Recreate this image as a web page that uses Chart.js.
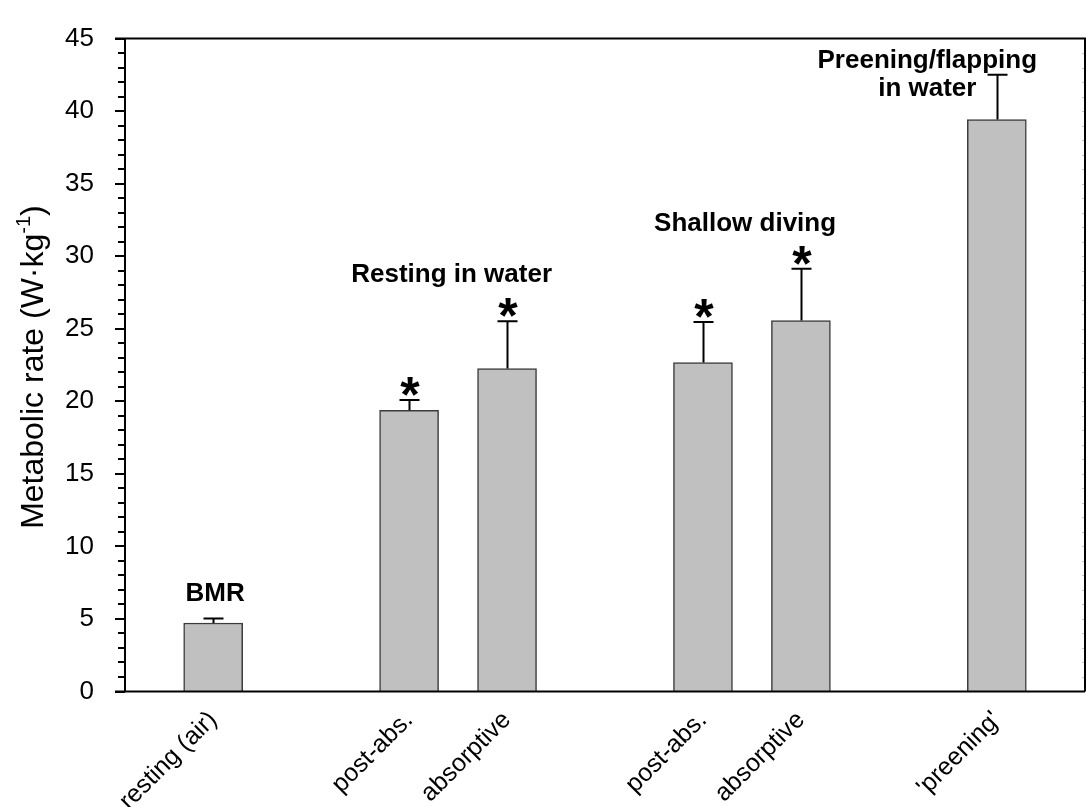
<!DOCTYPE html>
<html>
<head>
<meta charset="utf-8">
<script src="https://cdn.jsdelivr.net/npm/chart.js@4.4.1/dist/chart.umd.min.js"></script>
<style>
  html, body { margin: 0; padding: 0; background: #ffffff; }
  #wrap { width: 1086px; height: 807px; }
</style>
</head>
<body>
<div id="wrap"><canvas id="chart" width="1086" height="807"></canvas></div>
<script>
// Metabolic rate by activity (mean + upper SE)
const categories = ["resting (air)", "post-abs.", "absorptive", "post-abs.", "absorptive", "'preening'"];
const positions = [1, 3, 4, 6, 7, 9];
const meanRates = [4.72, 19.38, 22.26, 22.67, 25.57, 39.42];
const errorUpper = [0.32, 0.71, 3.26, 2.79, 3.57, 3.09];
const significant = [false, true, true, true, true, false];
const yTickValues = [0, 5, 10, 15, 20, 25, 30, 35, 40, 45];

// Group headings, anchored in axis units (x position, y baseline)
const groupHeadings = [
  { lines: ["BMR"], x: 1.02, y: 6.25 },
  { lines: ["Resting in water"], x: 3.434, y: 28.25 },
  { lines: ["Shallow diving"], x: 6.43, y: 31.72 },
  { lines: ["Preening/flapping", "in water"], x: 8.29, y: 43.0 }
];

const FONT = "'Liberation Sans', Arial, Helvetica, sans-serif";

const barData = positions.map((p, i) => ({ x: p, y: meanRates[i] }));

// Frame, axis ticks, error bars, asterisks, headings and y title
const decorations = {
  id: 'decorations',
  afterDatasetsDraw(chart) {
    const { ctx, chartArea: a, scales: { x, y } } = chart;
    ctx.save();

    // error bars
    ctx.strokeStyle = '#000';
    ctx.lineWidth = 2;
    positions.forEach((p, i) => {
      const px = Math.round(x.getPixelForValue(p)) + 0.5;
      const y0 = y.getPixelForValue(meanRates[i]);
      const y1 = y.getPixelForValue(meanRates[i] + errorUpper[i]);
      ctx.beginPath();
      ctx.moveTo(px, y0);
      ctx.lineTo(px, y1);
      ctx.moveTo(px - 10, y1);
      ctx.lineTo(px + 10, y1);
      ctx.stroke();
      if (significant[i]) {
        ctx.font = 'bold 50px ' + FONT;
        ctx.fillStyle = '#000';
        ctx.textAlign = 'center';
        ctx.textBaseline = 'alphabetic';
        const m = ctx.measureText('*');
        const bottom = y1 - 4;
        ctx.fillText('*', px + 0.5, bottom - m.actualBoundingBoxDescent);
      }
    });

    // frame
    ctx.lineWidth = 2;
    ctx.strokeStyle = '#000';
    ctx.beginPath();
    ctx.moveTo(a.left - 10, a.top);
    ctx.lineTo(a.right, a.top);
    ctx.lineTo(a.right, a.bottom);
    ctx.moveTo(a.left - 10, a.bottom);
    ctx.lineTo(a.right, a.bottom);
    ctx.moveTo(a.left, a.top - 1);
    ctx.lineTo(a.left, a.bottom + 1);
    ctx.stroke();

    // left ticks: major every 5, minor every 1
    for (let v = 0; v <= 45; v += 1) {
      const py = Math.round(y.getPixelForValue(v));
      const len = v % 5 === 0 ? 10 : 7;
      ctx.beginPath();
      ctx.moveTo(a.left - len, py);
      ctx.lineTo(a.left, py);
      ctx.stroke();
    }
    // faint inner ticks on right frame
    ctx.strokeStyle = '#c8c8c8';
    ctx.lineWidth = 1;
    for (let v = 1; v < 45; v += 1) {
      const py = Math.round(y.getPixelForValue(v)) + 0.5;
      ctx.beginPath();
      ctx.moveTo(a.right - 3, py);
      ctx.lineTo(a.right - 1, py);
      ctx.stroke();
    }

    // group headings
    ctx.fillStyle = '#000';
    ctx.font = 'bold 26px ' + FONT;
    ctx.textAlign = 'center';
    ctx.textBaseline = 'alphabetic';
    groupHeadings.forEach(h => {
      const hx = x.getPixelForValue(h.x);
      const hy = y.getPixelForValue(h.y);
      h.lines.forEach((t, k) => ctx.fillText(t, hx, hy + k * 28.3));
    });

    // y axis title with superscript
    const main = '32px ' + FONT;
    const sup = '20px ' + FONT;
    ctx.font = main;
    const w1 = ctx.measureText('Metabolic rate (W\u00B7kg').width;
    const w3 = ctx.measureText(')').width;
    ctx.font = sup;
    const w2 = ctx.measureText('-1').width;
    const total = w1 + w2 + w3;
    const cy = (a.top + a.bottom) / 2 + 2;
    ctx.translate(43, cy);
    ctx.rotate(-Math.PI / 2);
    ctx.textAlign = 'left';
    ctx.textBaseline = 'alphabetic';
    let tx = -total / 2;
    ctx.font = main;
    ctx.fillText('Metabolic rate (W\u00B7kg', tx, 0);
    tx += w1;
    ctx.font = sup;
    ctx.fillText('-1', tx, -13);
    tx += w2;
    ctx.font = main;
    ctx.fillText(')', tx, 0);

    ctx.restore();
  }
};

new Chart(document.getElementById('chart'), {
  type: 'bar',
  data: {
    datasets: [{
      data: barData,
      backgroundColor: '#c0c0c0',
      borderColor: '#3c3c3c',
      borderWidth: 1.5,
      barThickness: 59
    }]
  },
  options: {
    responsive: false,
    devicePixelRatio: 1,
    animation: false,
    layout: { padding: { top: 20, right: 1, left: 0, bottom: 0 } },
    plugins: { legend: { display: false }, tooltip: { enabled: false } },
    scales: {
      x: {
        type: 'linear',
        offset: false,
        min: 0.1,
        max: 9.9,
        grid: { display: false, offset: false },
        border: { display: false },
        afterBuildTicks: (s) => { s.ticks = positions.map(v => ({ value: v })); },
        afterFit: (s) => { s.height = 115.5; },
        ticks: {
          autoSkip: false,
          minRotation: 45,
          maxRotation: 45,
          padding: 6,
          color: '#000',
          font: { family: FONT, size: 25 },
          callback: (v) => { const i = positions.indexOf(v); return i >= 0 ? categories[i] : ''; }
        }
      },
      y: {
        min: 0,
        max: 45,
        grid: { display: false },
        border: { display: false },
        afterBuildTicks: (s) => { s.ticks = yTickValues.map(v => ({ value: v })); },
        afterFit: (s) => { s.width = 125; },
        ticks: {
          padding: 23,
          color: '#000',
          font: { family: FONT, size: 26 }
        }
      }
    }
  },
  plugins: [decorations]
});
</script>
</body>
</html>
